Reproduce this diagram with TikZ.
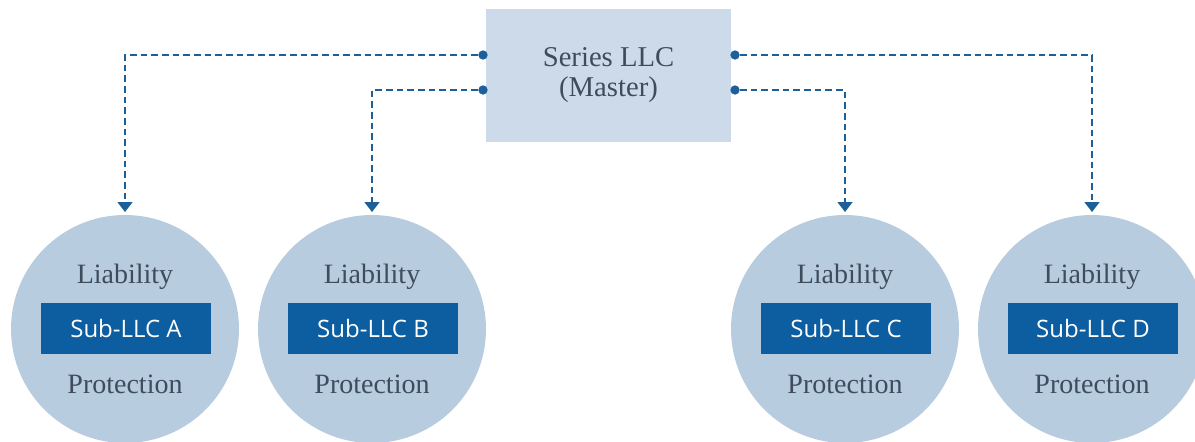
\documentclass[tikz,border=0pt]{standalone}
\usepackage{fontspec}
\setmainfont{Liberation Serif}
\newfontfamily\llcfont{Open Sans}
\usetikzlibrary{arrows.meta}
\definecolor{masterFill}{HTML}{CCDAEA}
\definecolor{circFill}{HTML}{B8CCE0}
\definecolor{llcBlue}{HTML}{0C5EA0}
\definecolor{lineBlue}{HTML}{1D5F98}
\definecolor{txtGrey}{HTML}{3E4C5C}

\begin{document}
\begin{tikzpicture}[x=0.75pt, y=-0.75pt]
        \tikzstyle{masterStyle} = [fill=masterFill, inner sep=0, minimum width=184pt,
            minimum height=100pt, text=txtGrey, align=center,
            font=\fontsize{21.5pt}{22.5pt}\selectfont]
        \tikzstyle{circStyle} = [circle, fill=circFill, inner sep=0, minimum size=171pt]
        \tikzstyle{llcStyle} = [fill=llcBlue, text=white, inner sep=0, minimum width=127pt,
            minimum height=38pt, font=\llcfont\fontsize{18pt}{20pt}\selectfont]
        \tikzstyle{capStyle} = [anchor=base, text=txtGrey, inner sep=0,
            font=\fontsize{21pt}{22pt}\selectfont]
        \tikzstyle{dotStyle} = [circle, fill=lineBlue, inner sep=0, minimum size=7pt]
        \tikzstyle{connStyle} = [draw=lineBlue, line width=1.7pt, dash pattern=on 5pt off 3pt,
            -{Triangle[width=11pt, length=7.5pt]}, shorten >=2pt]
        \useasboundingbox (0,0) rectangle (1195,442);
        \clip (0,0) rectangle (1195,442);
        \node[masterStyle] (master) at (608.5,75.5) {Series LLC\\(Master)};
        \foreach \n/\x in {A/125, B/372, C/845, D/1092} {
            \node[circStyle] (llc\n) at (\x,329) {};
            \node[capStyle] (lia\n) at (\x,283) {Liability};
            \node[llcStyle] (sub\n) at (\x+1,328.5) {Sub-LLC \n};
            \node[capStyle] (pro\n) at (\x,393) {Protection};
        }
        \node[dotStyle] (dotL1) at (483,55) {};
        \node[dotStyle] (dotL2) at (483,90) {};
        \node[dotStyle] (dotR1) at (735,55) {};
        \node[dotStyle] (dotR2) at (735,90) {};
        \foreach \from/\to in {dotL1/llcA, dotL2/llcB, dotR2/llcC, dotR1/llcD}
            \draw[connStyle] (\from) -| (\to);
\end{tikzpicture}
\end{document}
